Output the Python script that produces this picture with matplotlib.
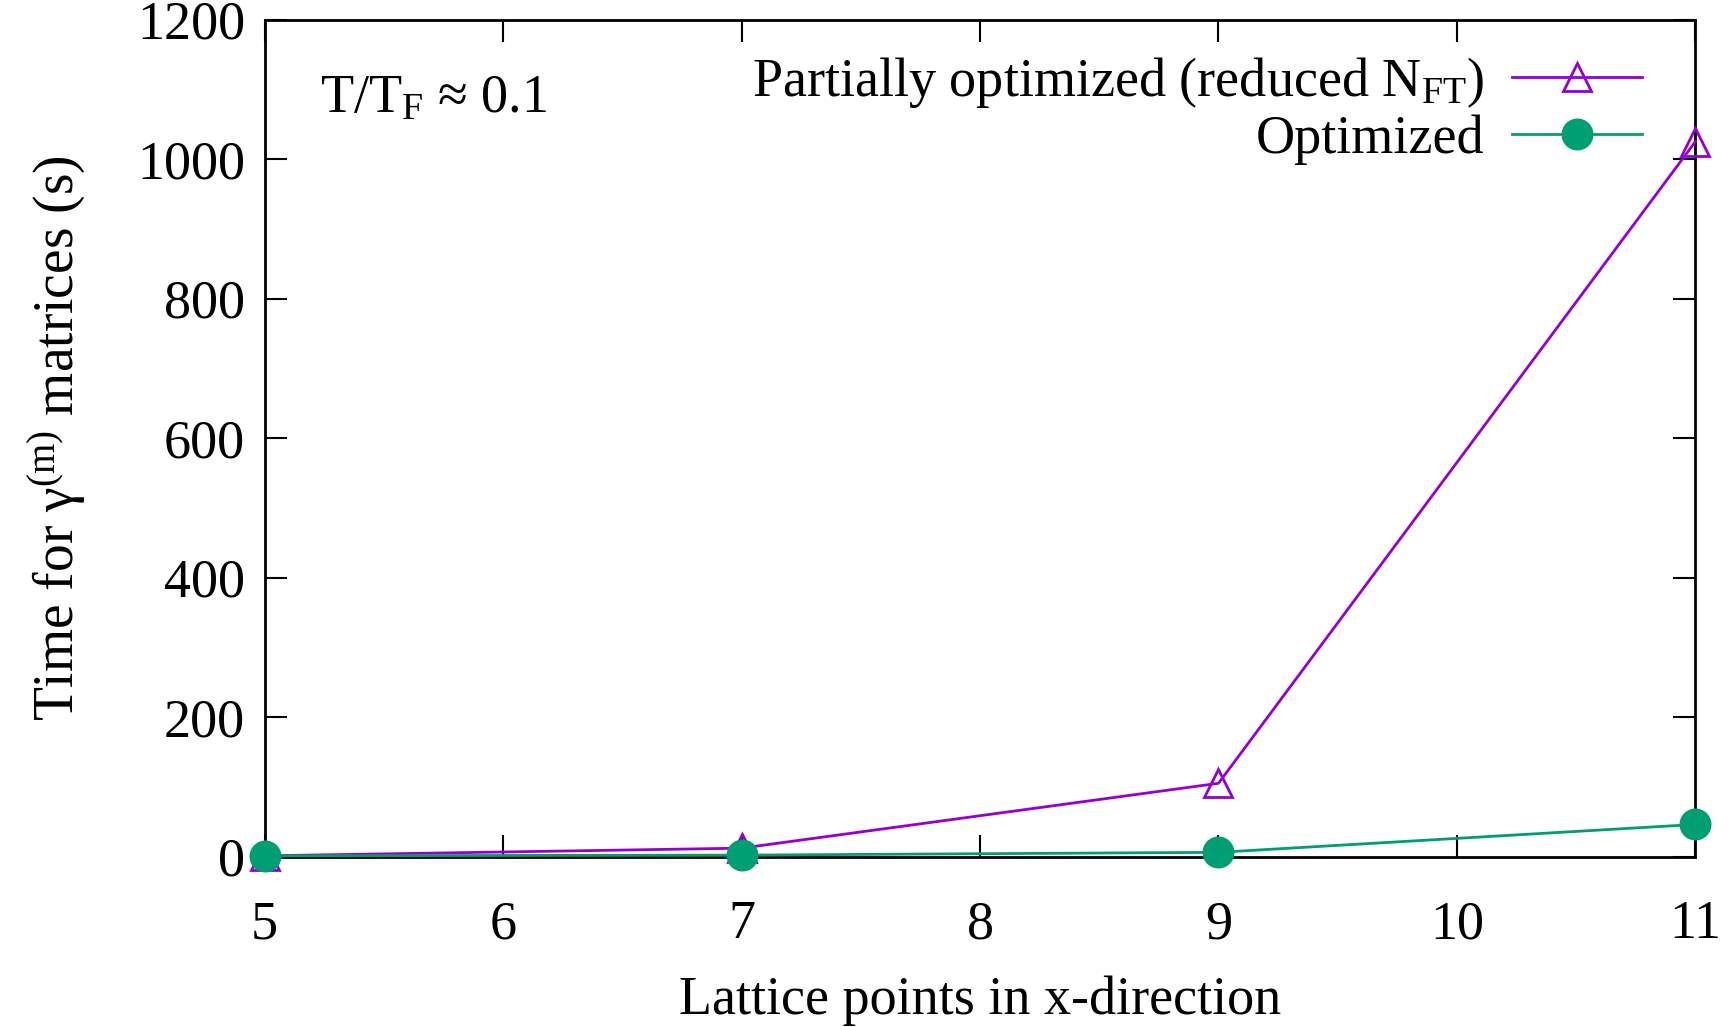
import numpy as np
import matplotlib
matplotlib.use("Agg")
import matplotlib.pyplot as plt

plt.rcParams['font.family'] = ['Liberation Serif', 'DejaVu Serif']
plt.rcParams['mathtext.fontset'] = 'custom'
plt.rcParams['mathtext.rm'] = 'Liberation Serif'
plt.rcParams['mathtext.it'] = 'Liberation Serif:italic'

# data
lattice = [5, 7, 9, 11]
t_partial = [1, 12, 105, 1025]
t_optimized = [1, 2, 6, 46]

xticks = [5, 6, 7, 8, 9, 10, 11]
yticks = [0, 200, 400, 600, 800, 1000, 1200]

fig = plt.figure(figsize=(17.3, 10.27), dpi=100)
ax = fig.add_axes([0.153, 0.166, 0.827, 0.815])

purple = '#9400D3'
green = '#009E73'

ax.plot(lattice, t_partial, color=purple, lw=2, marker='^', ms=20,
        mfc='none', mec=purple, mew=2, label=r'Partially optimized (reduced N$_{\mathrm{FT}}$)',
        clip_on=False, zorder=3)
ax.plot(lattice, t_optimized, color=green, lw=2, marker='o', ms=22,
        mfc=green, mec=green, label='Optimized', clip_on=False, zorder=4)

ax.set_xlim(5, 11)
ax.set_ylim(0, 1200)
ax.set_xticks(xticks)
ax.set_yticks(yticks)
ax.tick_params(direction='in', length=16, width=1.5, top=True, right=True,
               labelsize=39, pad=14)
ax.tick_params(axis='x', pad=31)
for s in ax.spines.values():
    s.set_linewidth(2)

ax.set_xlabel('Lattice points in x-direction', fontsize=39, labelpad=18)
ax.set_ylabel(r'Time for γ$^{\mathrm{(m)}}$ matrices (s)', fontsize=40, labelpad=36)

ax.text(0.039, 0.905, r'T/T$_{\mathrm{F}}$ ≈ 0.1', transform=ax.transAxes,
        fontsize=39, va='center', ha='left')

leg = ax.legend(loc='upper right', frameon=False, markerfirst=False, fontsize=39,
                handlelength=2.4, handletextpad=0.5, labelspacing=0.08,
                borderaxespad=0.25, bbox_to_anchor=(0.987, 1.0))
for t in leg.get_texts():
    t.set_ha('right')

fig.savefig('out.png', dpi=100)
